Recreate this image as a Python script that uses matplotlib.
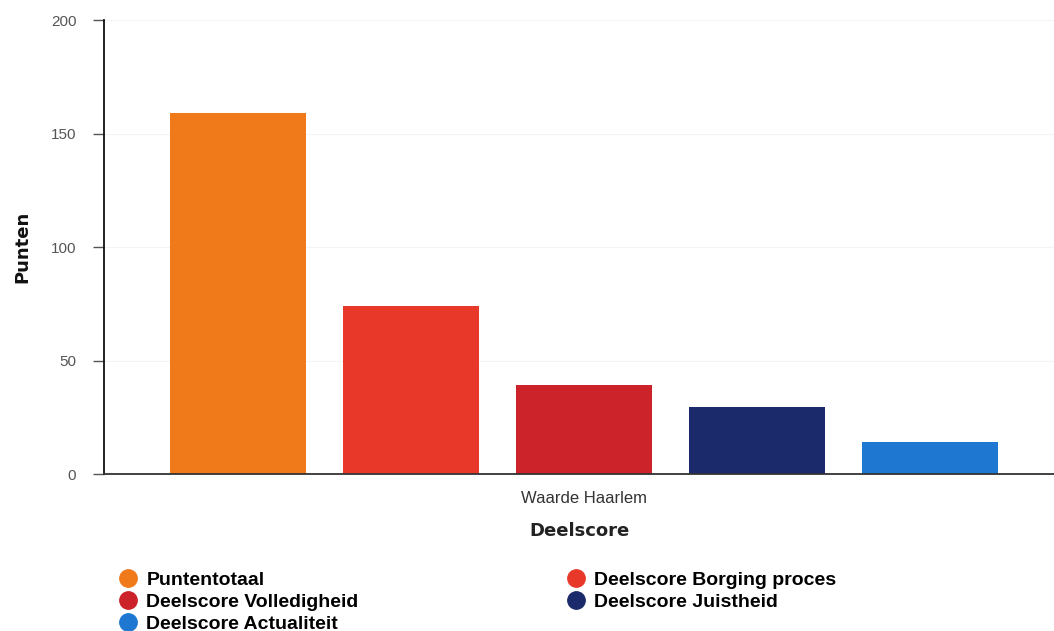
import matplotlib
matplotlib.use("Agg")
import matplotlib.pyplot as plt
from matplotlib.lines import Line2D

categories = ["Waarde Haarlem"]
series_names = ["Puntentotaal", "Deelscore Borging proces", "Deelscore Volledigheid",
                "Deelscore Juistheid", "Deelscore Actualiteit"]
series_values = [159, 74, 39, 29.5, 14]
series_colors = ["#F07A1A", "#E8382A", "#CC2229", "#1B2A6B", "#1E78D2"]
y_ticks = [0, 50, 100, 150, 200]

fig = plt.figure(figsize=(10.54, 6.31), dpi=100)
ax = fig.add_axes([0.0987, 0.2488, 0.9013, 0.7195])

n = len(series_names)
width = 0.79
for ci, cat in enumerate(categories):
    center = ci * (n + 1)
    for i, (name, val, col) in enumerate(zip(series_names, series_values, series_colors)):
        ax.bar(center + (i - (n - 1) / 2), val, width=width, color=col, label=name, zorder=2)

ax.set_xlim(-2.775, 2.717)
ax.set_ylim(0, 200)
ax.set_yticks(y_ticks)
ax.set_xticks([ci * (n + 1) for ci in range(len(categories))])
ax.set_xticklabels(categories, fontfamily="Liberation Sans", fontsize=12, color="#333333")
ax.tick_params(axis="x", length=0, pad=12)
ax.tick_params(axis="y", length=8, width=1, color="#555555", labelsize=11,
               labelcolor="#555555", pad=12)
for lab in ax.get_yticklabels():
    lab.set_fontfamily("Liberation Sans")
ax.grid(axis="y", color="#f4f4f4", linewidth=0.8, zorder=0)
for s in ["top", "right"]:
    ax.spines[s].set_visible(False)
ax.spines["left"].set_color("#111111")
ax.spines["bottom"].set_color("#333333")
ax.spines["left"].set_linewidth(1.3)
ax.spines["bottom"].set_linewidth(1.3)

ax.set_ylabel("Punten", fontsize=13, fontweight="bold", fontfamily="DejaVu Sans",
              color="#111111", labelpad=14)
ax.set_xlabel("Deelscore", fontsize=13, fontweight="bold", fontfamily="DejaVu Sans",
              color="#222222", labelpad=12)

order = [0, 2, 4, 1, 3]
handles = [Line2D([], [], marker="o", linestyle="none", markersize=12.5,
                  markerfacecolor=series_colors[i], markeredgecolor=series_colors[i])
           for i in order]
labels = [series_names[i] for i in order]
fig.legend(handles, labels, loc="upper left", bbox_to_anchor=(0.1122, 0.0947),
           ncol=2, frameon=False, handletextpad=0.45, labelspacing=0.23,
           columnspacing=10.66, borderaxespad=0, borderpad=0, handlelength=1.0,
           prop={"family": "Liberation Sans", "weight": "bold", "size": 14})

fig.savefig("out.png", dpi=100)
